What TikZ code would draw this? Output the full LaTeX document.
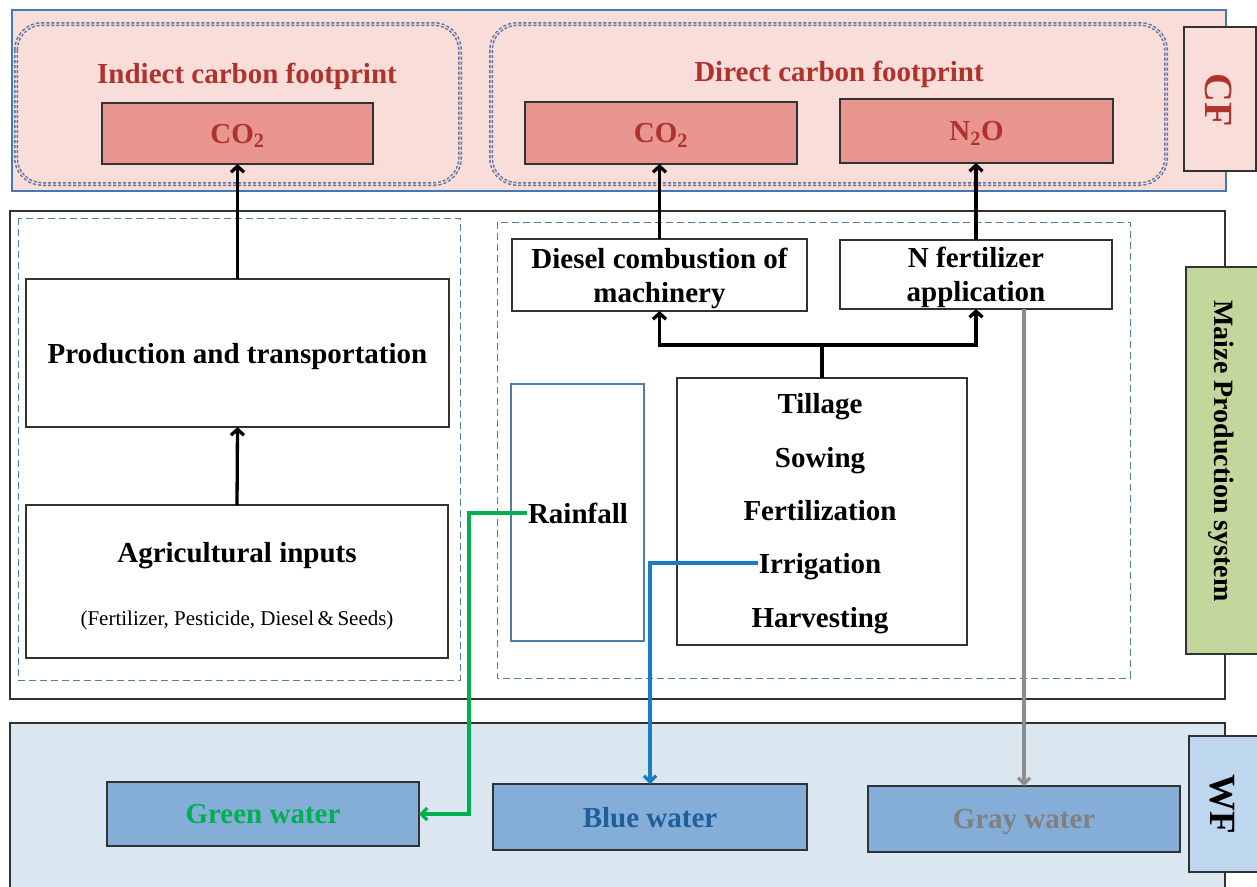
\documentclass[tikz,border=0pt]{standalone}
\usepackage{fontspec}
\setmainfont{Liberation Serif}
\usetikzlibrary{arrows.meta,calc}
\definecolor{cfpink}{RGB}{249,221,217}
\definecolor{cfborder}{RGB}{70,120,180}
\definecolor{salmon}{RGB}{234,150,144}
\definecolor{darkred}{RGB}{175,50,45}
\definecolor{dotblue}{RGB}{95,115,160}
\definecolor{dashblue}{RGB}{80,125,165}
\definecolor{maizegreen}{RGB}{195,214,155}
\definecolor{wfbg}{RGB}{218,230,240}
\definecolor{wflab}{RGB}{190,215,238}
\definecolor{waterbox}{RGB}{132,174,216}
\definecolor{greentxt}{RGB}{0,176,80}
\definecolor{bluetxt}{RGB}{31,95,155}
\definecolor{bluelin}{RGB}{25,125,195}
\definecolor{graytxt}{RGB}{128,128,128}
\definecolor{graylin}{RGB}{140,140,140}
\definecolor{boxline}{RGB}{50,50,50}
\tikzset{
  panel/.style={draw, line width=1.2pt, inner sep=0pt, outer sep=0pt},
  dotbox/.style={draw=dotblue, line width=1.5pt, double=cfpink, double distance=1pt,
     dash pattern=on 3pt off 2pt, rounded corners=26pt},
  dashbox/.style={draw=dashblue, line width=1pt, dash pattern=on 7pt off 4pt},
  plainbox/.style={draw=boxline, line width=1.3pt, fill=white, inner sep=0pt, outer sep=0pt},
  redbox/.style={draw=boxline, line width=1.3pt, fill=salmon, inner sep=0pt, outer sep=0pt,
     font=\fontsize{29}{34}\selectfont\bfseries, text=darkred, text depth=0pt},
  waterb/.style={draw=boxline, line width=1.3pt, fill=waterbox, inner sep=0pt, outer sep=0pt,
     font=\fontsize{29}{34}\selectfont\bfseries, text depth=0pt},
  lbl/.style={font=\fontsize{29}{34}\selectfont\bfseries, inner sep=1pt, align=center, text depth=0pt},
  title/.style={font=\fontsize{29}{34}\selectfont\bfseries, text=darkred, inner sep=1pt, text depth=0pt},
  blk/.style={line width=3.3pt, -{Straight Barb[length=6pt,width=13pt]}},
  colarrow/.style={line width=3.2pt, -{Straight Barb[length=6pt,width=12pt]}},
}
\begin{document}
\begin{tikzpicture}[x=1pt,y=-1pt]
\useasboundingbox (0,0) rectangle (1257,886);
\clip (0,0) rectangle (1257,886);
\fill[white] (0,0) rectangle (1257,886);

% ---------- CF panel ----------
\node[panel, draw=cfborder, fill=cfpink, minimum width=1214pt, minimum height=181pt] (cfbg) at (619,100.5) {};
\node[panel, draw=boxline, fill=cfpink, minimum width=72pt, minimum height=144pt] (cflab) at (1220,99) {};
\node[font=\fontsize{40}{44}\selectfont\bfseries, text=darkred, rotate=-90] (cftxt) at (1219,100) {CF};
\draw[dotbox] (16,24) rectangle (460,184);
\draw[dotbox] (491,24) rectangle (1166,184);
\node[title] (indt) at (247,73) {Indiect carbon footprint};
\node[title] (dirt) at (839,71) {Direct carbon footprint};
\node[redbox, minimum width=271pt, minimum height=61pt] (co2a) at (237.5,133.5) {CO\textsubscript{2}};
\node[redbox, minimum width=272pt, minimum height=62pt] (co2b) at (661,133) {CO\textsubscript{2}};
\node[redbox, minimum width=273pt, minimum height=64pt] (n2o) at (976.5,131) {N\textsubscript{2}O};

% ---------- Maize production panel ----------
\node[panel, draw=boxline, fill=white, minimum width=1215pt, minimum height=488pt] (prodbg) at (617.5,455) {};
\node[panel, draw=boxline, fill=maizegreen, minimum width=80pt, minimum height=387pt] (mzlab) at (1226,460.5) {};
\node[font=\fontsize{28}{32}\selectfont\bfseries, rotate=-90] (mztxt) at (1221,451) {Maize Production system};
\draw[dashbox] (18,218) rectangle (460,680);
\draw[dashbox] (497,222) rectangle (1130,678);

\node[plainbox, lbl, inner sep=0pt, minimum width=423pt, minimum height=148pt] (prodtr) at (237.5,353) {Production and transportation};
\node[plainbox, minimum width=422pt, minimum height=153pt] (agri) at (237,581.5) {};
\node[lbl] (agrit) at (237,552) {Agricultural inputs};
\node[font=\fontsize{21}{24}\selectfont, inner sep=1pt, text depth=0pt] (agris) at (237,618) {(Fertilizer, Pesticide, Diesel\,\&\,Seeds)};

\node[plainbox, lbl, inner sep=0pt, minimum width=295pt, minimum height=72pt] (diesel) at (659.5,275) {Diesel combustion of\\machinery};
\node[plainbox, lbl, inner sep=0pt, minimum width=272pt, minimum height=69pt] (nfert) at (976,274.5) {N fertilizer\\application};

\node[panel, draw=dashblue, line width=1.2pt, fill=white, minimum width=133pt, minimum height=257pt] (rain) at (577.5,512.5) {};
\node[lbl] (raint) at (578,513) {Rainfall};

\node[plainbox, minimum width=290pt, minimum height=267pt] (tasks) at (822,511.5) {};
\node[lbl] (till) at (820,403) {Tillage};
\node[lbl] (sow) at (820,457) {Sowing};
\node[lbl] (fert) at (820,510) {Fertilization};
\node[lbl] (irr) at (820,563) {Irrigation};
\node[lbl] (harv) at (820,617) {Harvesting};

% ---------- WF panel ----------
\node[panel, draw=boxline, fill=wfbg, minimum width=1215pt, minimum height=190pt] (wfbg) at (617.5,818) {};
\node[panel, draw=boxline, fill=wflab, minimum width=70pt, minimum height=136pt] (wflab) at (1224,804) {};
\node[font=\fontsize{37}{40}\selectfont\bfseries, rotate=-90] (wftxt) at (1222,804) {WF};
\node[waterb, text=greentxt, minimum width=312pt, minimum height=64pt] (greenw) at (263,814) {Green water};
\node[waterb, text=bluetxt, minimum width=314pt, minimum height=66pt] (bluew) at (650,817) {Blue water};
\node[waterb, text=graytxt, minimum width=312pt, minimum height=66pt] (grayw) at (1024,819) {Gray water};

% ---------- connectors ----------
\draw[blk] (prodtr.north) -- (co2a.south);
\draw[blk] (agri.north) -- (prodtr.south);
\draw[blk] (diesel.north) -- (diesel.north |- co2b.south);
\draw[blk] (nfert.north) -- (nfert.north |- n2o.south);
\coordinate (split) at (822,345);
\draw[line width=3.3pt] (tasks.north) -- (split);
\draw[blk] (split) -| (diesel.south);
\draw[blk] (split) -| (nfert.south);

\coordinate (gturn) at (469,513);
\draw[colarrow, draw=greentxt] (raint.west) -- (gturn) |- (greenw.east);
\draw[colarrow, draw=bluelin] (irr.west) -| (bluew.north);
\draw[colarrow, draw=graylin] (nfert.south -| grayw.north) -- (grayw.north);
\end{tikzpicture}
\end{document}
